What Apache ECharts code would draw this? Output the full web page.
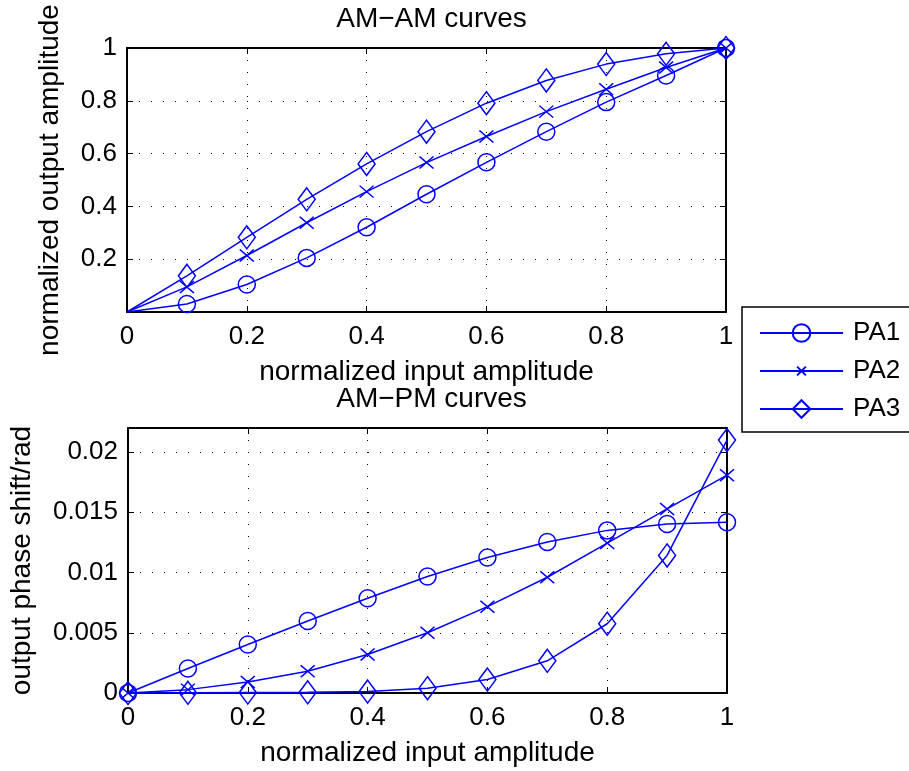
<!DOCTYPE html>
<html>
<head>
<meta charset="utf-8">
<script src="https://cdn.jsdelivr.net/npm/echarts@6/dist/echarts.min.js"></script>
<style>
html,body{margin:0;padding:0;background:#fff;}
#chart{width:909px;height:771px;}
</style>
</head>
<body>
<div id="chart"></div>
<script>
// ---- data ----
const xVals = [0, 0.1, 0.2, 0.3, 0.4, 0.5, 0.6, 0.7, 0.8, 0.9, 1.0];
const seriesNames = ['PA1', 'PA2', 'PA3'];
const pa1AM = [0, 0.030, 0.104, 0.205, 0.321, 0.446, 0.567, 0.683, 0.795, 0.896, 1.0];
const pa2AM = [0, 0.095, 0.214, 0.338, 0.456, 0.566, 0.665, 0.759, 0.844, 0.926, 1.0];
const pa3AM = [0, 0.137, 0.283, 0.427, 0.561, 0.683, 0.791, 0.877, 0.939, 0.978, 1.0];
const pa1PM = [0, 0.00203, 0.00403, 0.00598, 0.00787, 0.00967, 0.01125, 0.01253, 0.01350, 0.01403, 0.01417];
const pa2PM = [0, 0.00028, 0.00092, 0.00180, 0.00320, 0.00500, 0.00717, 0.00961, 0.01245, 0.01528, 0.01808];
const pa3PM = [0, 0.00002, 0.00004, 0.00006, 0.00012, 0.00040, 0.00112, 0.00267, 0.00575, 0.01142, 0.02100];
const titles = ['AM\u2212AM curves', 'AM\u2212PM curves'];
const xName = 'normalized input amplitude';
const yNames = ['normalized output amplitude', 'output phase shift/rad'];

// ---- styling ----
const FONT = 'Liberation Sans, Arial, Helvetica, sans-serif';
const FS = 26;
const FS_NAME = 28;
const BLUE = '#0000ff';
const symbols = [
  {symbol: 'circle', size: 17},
  {symbol: 'path://M0,0M20,20M5,5L15,15M15,5L5,15', size: [28, 24]},
  {symbol: 'path://M8.5,0L17,11.5L8.5,23L0,11.5Z', size: [17, 23]}
];

const grids = [
  {left: 127, top: 48, width: 599, height: 264},
  {left: 127, top: 428, width: 600, height: 265}
];

const tickStyle = {inside: true, length: 6, lineStyle: {color: '#000', width: 1}};
const lineAx = {show: true, onZero: false, lineStyle: {color: '#000', width: 2}};
const gridDots = {show: true, lineStyle: {color: '#000', width: 1, type: [1, 11]}};

function mainX(gi) {
  return {
    type: 'value', gridIndex: gi, min: 0, max: 1, interval: 0.2, position: 'bottom',
    axisLine: lineAx, axisTick: tickStyle, splitLine: gridDots,
    axisLabel: {color: '#000', fontSize: FS, fontFamily: FONT, margin: 12},
    name: xName, nameLocation: 'middle', nameGap: 46,
    nameTextStyle: {color: '#000', fontSize: FS_NAME, fontFamily: FONT}
  };
}
function secX(gi) {
  return {
    type: 'value', gridIndex: gi, min: 0, max: 1, interval: 0.2, position: 'top',
    axisLine: lineAx, axisTick: tickStyle, splitLine: {show: false}, axisLabel: {show: false}
  };
}
function mainY(gi, max, interval, nameGap) {
  return {
    type: 'value', gridIndex: gi, min: 0, max: max, interval: interval, position: 'left',
    axisLine: lineAx, axisTick: tickStyle, splitLine: gridDots,
    axisLabel: {color: '#000', fontSize: FS, fontFamily: FONT, margin: 10,
      padding: [6, 0, 0, 0],
      showMinLabel: gi === 1, showMaxLabel: gi === 0},
    name: yNames[gi], nameLocation: 'middle', nameGap: nameGap,
    nameTextStyle: {color: '#000', fontSize: FS_NAME, fontFamily: FONT}
  };
}
function secY(gi, max, interval) {
  return {
    type: 'value', gridIndex: gi, min: 0, max: max, interval: interval, position: 'right',
    axisLine: lineAx, axisTick: tickStyle, splitLine: {show: false}, axisLabel: {show: false}
  };
}

// the AM-AM panel shows no marker at the origin
function pairs(ys, hideFirst) {
  return xVals.map((x, i) => (hideFirst && i === 0)
    ? {value: [x, ys[i]], symbol: 'none'}
    : [x, ys[i]]);
}

const amData = [pa1AM, pa2AM, pa3AM];
const pmData = [pa1PM, pa2PM, pa3PM];
const series = [];
[amData, pmData].forEach((set, gi) => {
  set.forEach((ys, k) => {
    series.push({
      type: 'line', name: seriesNames[k],
      xAxisIndex: gi * 2, yAxisIndex: gi * 2,
      data: pairs(ys, gi === 0),
      symbol: symbols[k].symbol, symbolSize: symbols[k].size,
      showAllSymbol: true, clip: false,
      lineStyle: {color: BLUE, width: 1.5},
      itemStyle: {color: 'transparent', borderColor: BLUE, borderWidth: 1.5},
      emphasis: {disabled: true},
      animation: false
    });
  });
});

const option = {
  backgroundColor: '#fff',
  animation: false,
  title: [
    {text: titles[0], left: 426.5, top: 0, textAlign: 'center',
     textStyle: {color: '#000', fontSize: FS_NAME, fontWeight: 'normal', fontFamily: FONT}},
    {text: titles[1], left: 426.5, top: 380, textAlign: 'center',
     textStyle: {color: '#000', fontSize: FS_NAME, fontWeight: 'normal', fontFamily: FONT}}
  ],
  legend: {
    data: seriesNames, orient: 'vertical', left: 742, top: 307,
    padding: [13, 14, 10, 17], itemGap: 12, itemWidth: 83, itemHeight: 22,
    borderColor: '#000', borderWidth: 1.5, backgroundColor: '#fff',
    textStyle: {color: '#000', fontSize: FS, fontFamily: FONT, padding: [0, 0, 0, 5]}
  },
  grid: grids,
  xAxis: [mainX(0), secX(0), mainX(1), secX(1)],
  yAxis: [mainY(0, 1, 0.2, 63), secY(0, 1, 0.2), mainY(1, 0.022, 0.005, 92), secY(1, 0.022, 0.005)],
  series: series
};

const chart = echarts.init(document.getElementById('chart'), null, {renderer: 'canvas'});
chart.setOption(option);
</script>
</body>
</html>
